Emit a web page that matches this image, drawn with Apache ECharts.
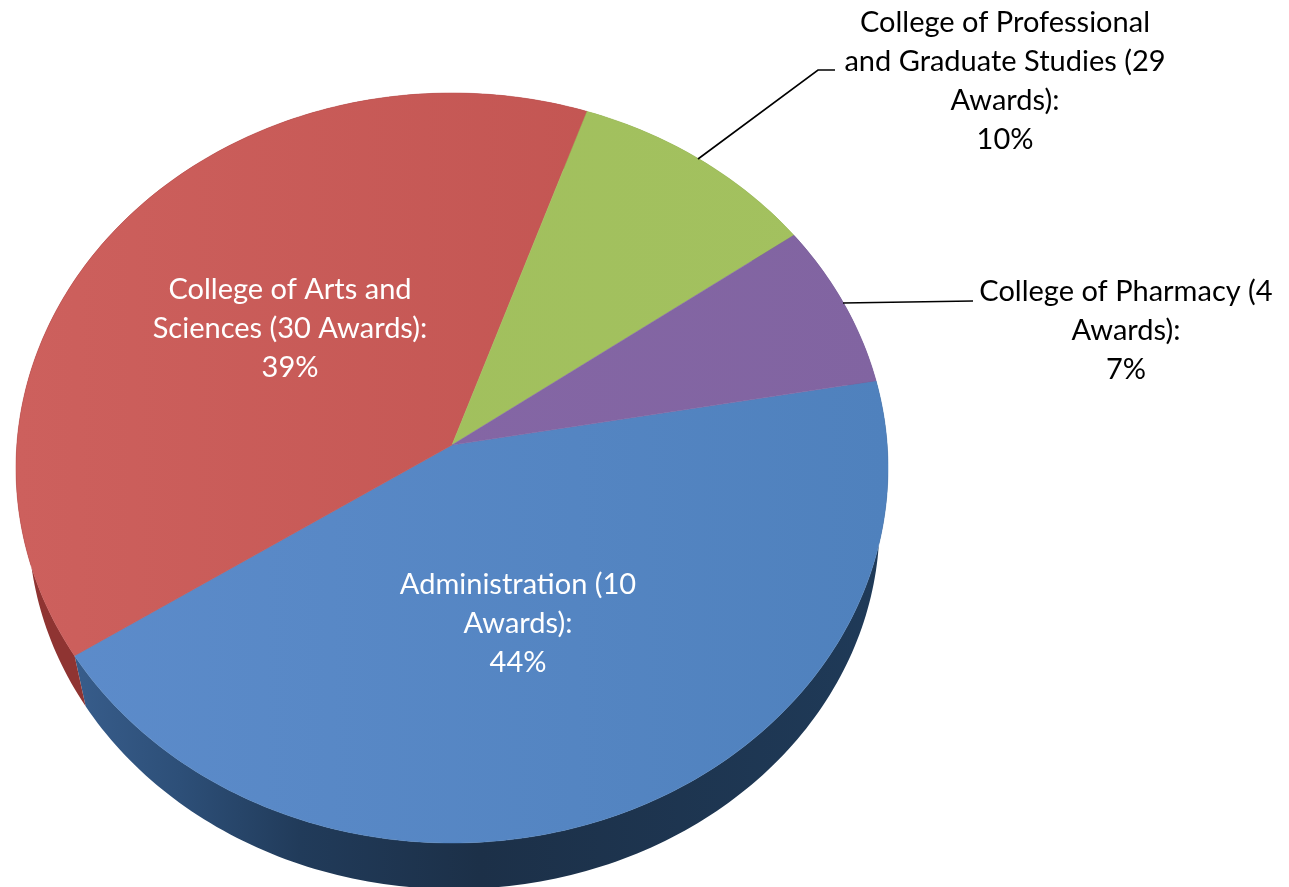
<!DOCTYPE html>
<html><head><meta charset="utf-8">
<style>html,body{margin:0;padding:0;background:#fff}#c{width:1289px;height:887px}</style>
<script src="https://cdn.jsdelivr.net/npm/echarts@6/dist/echarts.min.js"></script>
</head><body><div id="c"></div>
<script>
// ---- data ----
const categories = ['Administration (10\nAwards):', 'College of Arts and\nSciences (30 Awards):', 'College of Professional\nand Graduate Studies (29\nAwards):', 'College of Pharmacy (4\nAwards):'];
const shares = [43.6, 39.5, 9.8, 7.1];
const tickLabels = ['44%', '39%', '10%', '7%'];

// ---- style / layout ----
const topColors = [['#5d8ccb', '#4f81bd'], ['#cd605d', '#bf514e'], ['#a0bf5c', '#a3c15f'], ['#8768a8', '#8164a1']];
const sideStops = [
  [[0, '#375c8a'], [0.125, '#2d4f78'], [0.275, '#213b5a'], [0.5, '#1c3048'], [1, '#1f3a58']],
  [[0, '#8f3432'], [1, '#a23e3b']],
  [[0, '#6f8a3a'], [1, '#6f8a3a']],
  [[0, '#584572'], [1, '#584572']]
];
const startDeg = -10, ax = 452, ay = 445, a = 435.2, b = 373.6, k = -0.0613;
const lowerScale = 0.976, lowerDrop = 55.6, lowerShift = 2;
const labelCenters = [[518, 585], [290, 290], [1005, 23], [1126, 292]];
const labelColors = ['#fff', '#fff', '#000', '#000'];
const leaders = [[[698, 159], [818, 70], [835, 70]], [[843, 303], [973, 301]]];
const lineH = 39, fontPx = 29;

function rim(deg) {
  const t = deg * Math.PI / 180, u = Math.cos(t), v = Math.sin(t), w = 1 + k * v;
  return [ax + a * u / w, ay + b * v / w];
}
function low(p) {
  return [ax + lowerShift + (p[0] - ax) * lowerScale, ay + lowerDrop + (p[1] - ay) * lowerScale];
}
function arc(d0, d1) {
  const pts = [], n = Math.max(8, Math.ceil(Math.abs(d1 - d0)));
  for (let i = 0; i <= n; i++) pts.push(rim(d0 + (d1 - d0) * i / n));
  return pts;
}
const total = shares.reduce((s, x) => s + x, 0);
function range(i) {
  let s = 0;
  for (let j = 0; j < i; j++) s += shares[j];
  return [startDeg + s / total * 360, startDeg + (s + shares[i]) / total * 360];
}
const G = echarts.graphic.LinearGradient;

const chart = echarts.init(document.getElementById('c'), null, {renderer: 'canvas'});
const graphics = [];
leaders.forEach(pts => graphics.push({type: 'polyline', shape: {points: pts}, style: {stroke: '#000', lineWidth: 1.6, fill: null}, z: 20}));
categories.forEach((c, i) => {
  const lines = (c + '\n' + tickLabels[i]).split('\n');
  lines.forEach((t, j) => graphics.push({
    type: 'text', x: labelCenters[i][0], y: labelCenters[i][1] + j * lineH, z: 30,
    style: {text: t, fill: labelColors[i], font: fontPx + 'px Lato', align: 'center', verticalAlign: 'middle'}
  }));
});

chart.setOption({
  animation: false,
  graphic: graphics,
  series: [
    { // side wall
      type: 'custom', coordinateSystem: 'none', silent: true, z: 1,
      data: shares.map((v, i) => [i, v]),
      renderItem(params, api) {
        const i = api.value(0), [d0, d1] = range(i), top = arc(d0, d1);
        const pts = top.concat(top.slice().reverse().map(low));
        return {type: 'polygon', shape: {points: pts},
          style: {fill: new G(80, 0, 880, 0, sideStops[i].map(s => ({offset: s[0], color: s[1]})), true)}};
      }
    },
    { // top face
      type: 'custom', coordinateSystem: 'none', silent: true, z: 2,
      data: shares.map((v, i) => [i, v]),
      renderItem(params, api) {
        const i = api.value(0), [d0, d1] = range(i);
        const pts = [[ax, ay]].concat(arc(d0, d1));
        return {type: 'polygon', shape: {points: pts},
          style: {fill: new G(16, 0, 888, 0, [{offset: 0, color: topColors[i][0]}, {offset: 1, color: topColors[i][1]}], true),
                  stroke: topColors[i][1], lineWidth: 0.5}};
      }
    }
  ]
});
</script></body></html>
